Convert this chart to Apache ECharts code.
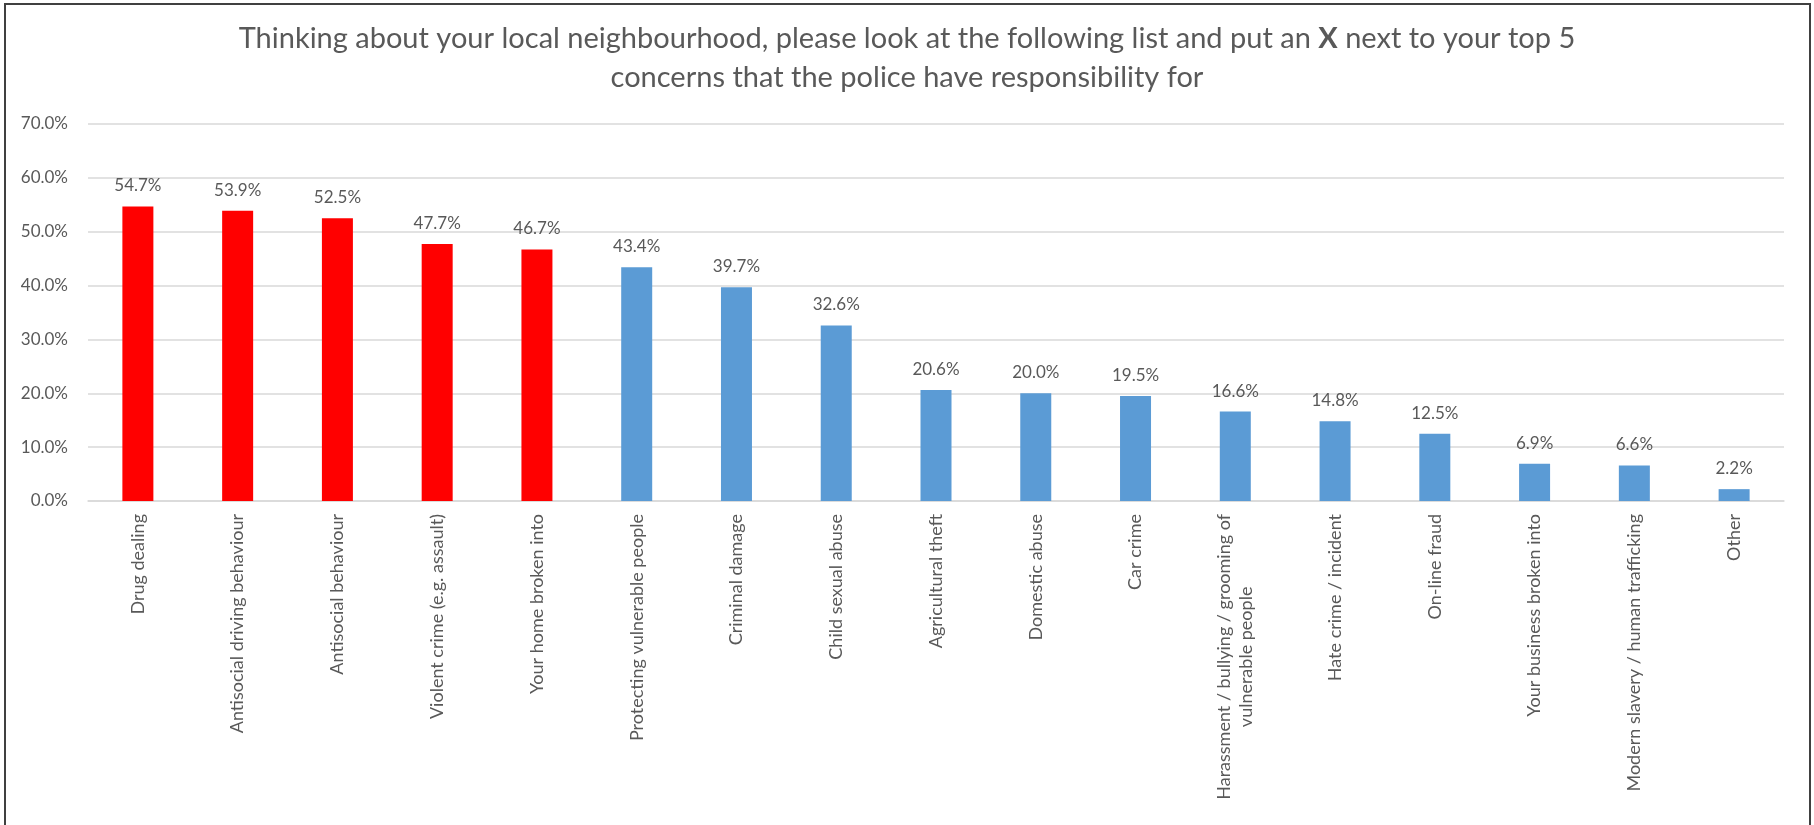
<!DOCTYPE html>
<html>
<head>
<meta charset="utf-8">
<title>Neighbourhood concerns</title>
<script src="https://cdn.jsdelivr.net/npm/echarts@6/dist/echarts.min.js"></script>
<style>
  html, body { margin: 0; padding: 0; background: #fff; }
  #chart { width: 1814px; height: 825px; }
</style>
</head>
<body>
<div id="chart"></div>
<script>
const categories = [
  'Drug dealing',
  'Antisocial driving behaviour',
  'Antisocial behaviour',
  'Violent crime (e.g. assault)',
  'Your home broken into',
  'Protecting vulnerable people',
  'Criminal damage',
  'Child sexual abuse',
  'Agricultural theft',
  'Domestic abuse',
  'Car crime',
  'Harassment / bullying / grooming of\nvulnerable people',
  'Hate crime / incident',
  'On-line fraud',
  'Your business broken into',
  'Modern slavery / human trafficking',
  'Other'
]
const values = [54.7, 53.9, 52.5, 47.7, 46.7, 43.4, 39.7, 32.6, 20.6, 20.0, 19.5, 16.6, 14.8, 12.5, 6.9, 6.6, 2.2]
// top five are highlighted in red
const topCount = 5
const yTicks = [0, 10, 20, 30, 40, 50, 60, 70]

const RED = '#FF0000'
const BLUE = '#5B9BD5'
const TEXT = '#595959'
const FONT = 'Lato'

const chart = echarts.init(document.getElementById('chart'))

const barData = values.map((v, i) => ({
  value: v,
  itemStyle: { color: i < topCount ? RED : BLUE }
}))

chart.setOption({
  animation: false,
  backgroundColor: '#fff',
  title: {
    text: 'Thinking about your local neighbourhood, please look at the following list and put an {b|X} next to your top 5\nconcerns that the police have responsibility for',
    left: 'center',
    top: 14,
    textStyle: {
      color: TEXT,
      fontFamily: FONT,
      fontSize: 29,
      fontWeight: 'normal',
      lineHeight: 39,
      rich: {
        b: { fontFamily: FONT, fontSize: 29, fontWeight: 'bold', color: TEXT, lineHeight: 39 }
      }
    }
  },
  graphic: [{
    type: 'rect',
    shape: { x: 5, y: 4, width: 1805, height: 900 },
    style: { fill: 'none', stroke: '#404040', lineWidth: 2 },
    silent: true,
    z: 100
  }],
  grid: { left: 88, right: 30, top: 124, bottom: 324, containLabel: false },
  xAxis: {
    type: 'category',
    data: categories,
    axisLine: { lineStyle: { color: '#D9D9D9', width: 1.5 } },
    axisTick: { show: false },
    axisLabel: {
      interval: 0,
      rotate: 90,
      margin: 13,
      color: TEXT,
      fontFamily: FONT,
      fontSize: 18,
      formatter: v => v.split('\n').map(s => '{c|' + s + '}').join('\n'),
      rich: {
        c: { align: 'center', color: TEXT, fontFamily: FONT, fontSize: 18, lineHeight: 22 }
      }
    }
  },
  yAxis: {
    type: 'value',
    min: yTicks[0],
    max: yTicks[yTicks.length - 1],
    interval: 10,
    axisLine: { show: false },
    axisTick: { show: false },
    splitLine: { lineStyle: { color: '#D9D9D9', width: 1.5 } },
    axisLabel: {
      margin: 20,
      color: TEXT,
      fontFamily: FONT,
      fontSize: 17,
      formatter: v => v.toFixed(1) + '%'
    }
  },
  series: [{
    type: 'bar',
    data: barData,
    barWidth: 31,
    label: {
      show: true,
      position: 'top',
      distance: 12,
      color: TEXT,
      fontFamily: FONT,
      fontSize: 17,
      formatter: p => p.value.toFixed(1) + '%'
    }
  }]
})
</script>
</body>
</html>
